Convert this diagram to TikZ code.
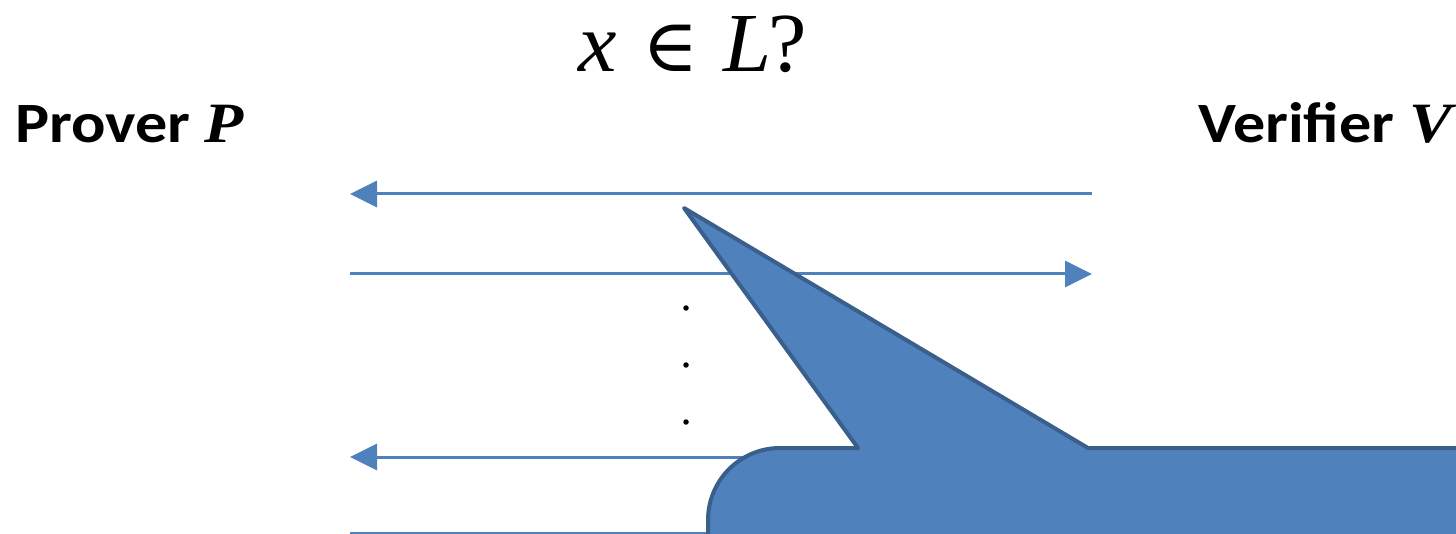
\documentclass[tikz,border=0pt]{standalone}
\usepackage{fontspec}
\usepackage{graphicx}
\setmainfont{Carlito}
\newfontfamily\serifit{Liberation Serif}
\newfontfamily\symfont{DejaVu Serif}
\usetikzlibrary{arrows.meta}
\definecolor{ablue}{HTML}{4F81BD}
\definecolor{dblue}{HTML}{3A5F8B}
\newcommand{\widen}[1]{\scalebox{1.125}[1]{#1}}
\begin{document}
\begin{tikzpicture}[x=1pt,y=-1pt,
  msg/.style={draw=ablue,line width=3pt,-{Triangle[length=27pt,width=26pt]}},
  party/.style={font=\fontsize{57}{62}\selectfont\bfseries,inner sep=0pt},
  dotmark/.style={circle,fill=black,inner sep=0pt,minimum size=5.5pt},
  callout/.style={fill=ablue,draw=dblue,line width=4pt,line join=round}]
\useasboundingbox (0,0) rectangle (1456,534);
\clip (0,0) rectangle (1456,534);
\node[inner sep=0pt,anchor=base west,font=\fontsize{84}{90}\selectfont\serifit] (q) at (578,72)
  {\scalebox{1.03}[1]{\itshape x\hspace{25pt}{\upshape\symfont\fontsize{74}{76}\selectfont ∈}\hspace{24pt}L\hspace{-3pt}\upshape ?}};
\node[party,anchor=base west] (pv) at (15,143) {\widen{Prover {\serifit\bfseries\itshape P}}};
\node[party,anchor=base east] (vf) at (1452,143) {\widen{Verifier {\serifit\bfseries\itshape V}}};
\coordinate (r1) at (1092,194); \coordinate (l1) at (350,194);
\coordinate (l2) at (350,274); \coordinate (r2) at (1092,274);
\coordinate (r3) at (1092,457); \coordinate (l3) at (350,457);
\coordinate (l4) at (350,533); \coordinate (r4) at (1092,533);
\draw[msg] (r1) -- (l1);
\draw[msg] (l2) -- (r2);
\draw[msg] (r3) -- (l3);
\draw[msg] (l4) -- (r4);
\node[dotmark] (d1) at (686,308) {};
\node[dotmark] (d2) at (686,365) {};
\node[dotmark] (d3) at (686,422) {};
\draw[callout] (684,208) -- (1088,448) -- (1520,448) -- (1520,600) -- (708,600) -- (708,520)
  arc[start angle=180,end angle=270,radius=72] -- (858,448) -- cycle;
\end{tikzpicture}
\end{document}
